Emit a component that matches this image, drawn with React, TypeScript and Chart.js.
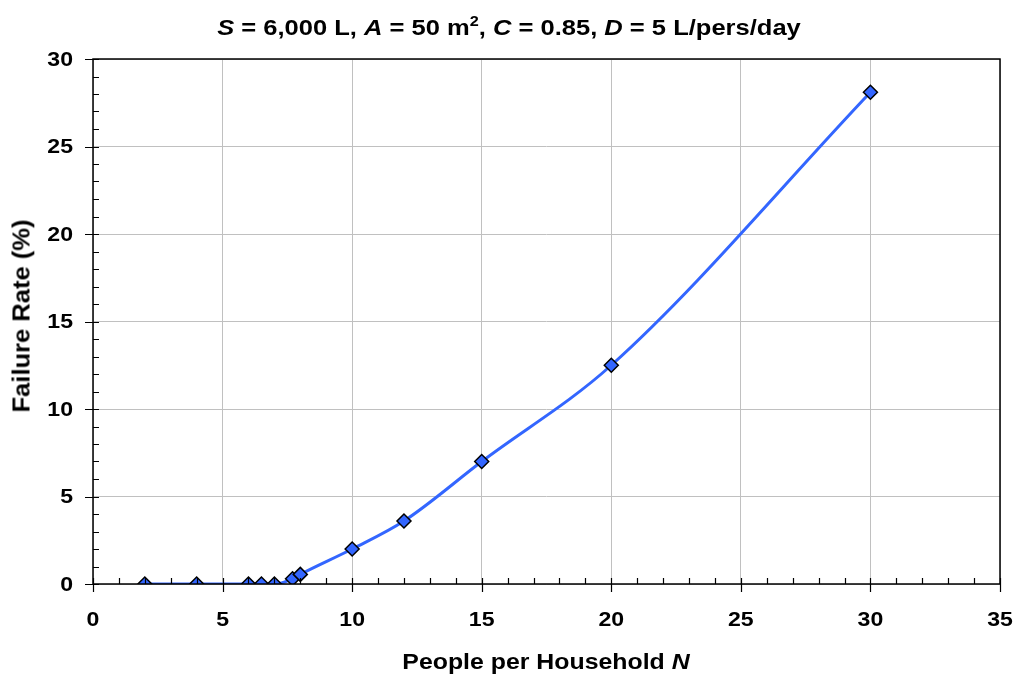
import React, { useEffect, useRef } from "react";
import { Chart, registerables } from "chart.js";

Chart.register(...registerables);

const peopleN = [2, 4, 6, 6.5, 7, 7.7, 8, 10, 12, 15, 20, 30];
const failureRate = [0, 0, 0, 0, 0, 0.3, 0.55, 2.0, 3.6, 7.0, 12.5, 28.1];
const xTickLabels = [0, 5, 10, 15, 20, 25, 30, 35];
const yTickLabels = [0, 5, 10, 15, 20, 25, 30];
const xMax = 35;
const yMax = 30;

const FONT = "'Liberation Sans', Arial, sans-serif";

const tickPlugin = {
  id: "customTicks",
  afterDraw(chart: any) {
    const ctx = chart.ctx;
    const { left, right, top, bottom } = chart.chartArea;
    const xs = chart.scales.x;
    const ys = chart.scales.y;
    ctx.save();
    ctx.strokeStyle = "#000";
    ctx.lineWidth = 1.5;
    ctx.strokeRect(left, top, right - left, bottom - top);
    ctx.lineWidth = 1.2;
    ctx.beginPath();
    for (let v = 0; v <= xMax; v++) {
      const px = Math.round(xs.getPixelForValue(v)) + 0.5;
      const major = v % 5 === 0;
      ctx.moveTo(px, bottom - 6);
      ctx.lineTo(px, bottom + (major ? 8 : 0));
    }
    for (let v = 0; v <= yMax; v++) {
      const py = Math.round(ys.getPixelForValue(v)) + 0.5;
      const major = v % 5 === 0;
      ctx.moveTo(left + 6, py);
      ctx.lineTo(left - (major ? 8 : 0), py);
    }
    ctx.stroke();

    // tick labels (slightly wide glyphs, as in the reference)
    ctx.fillStyle = "#000";
    ctx.font = `bold 21px ${FONT}`;
    ctx.textBaseline = "middle";
    const sx = 1.1;
    for (const v of yTickLabels) {
      const py = ys.getPixelForValue(v);
      ctx.save();
      ctx.translate(73, py + 1);
      ctx.scale(sx, 1);
      ctx.textAlign = "right";
      ctx.fillText(String(v), 0, 0);
      ctx.restore();
    }
    for (const v of xTickLabels) {
      const px = xs.getPixelForValue(v);
      ctx.save();
      ctx.translate(px, bottom + 36);
      ctx.scale(sx, 1);
      ctx.textAlign = "center";
      ctx.fillText(String(v), 0, 0);
      ctx.restore();
    }
    ctx.restore();
  },
};

export default function App() {
  const ref = useRef<HTMLCanvasElement>(null);
  useEffect(() => {
    document.body.style.margin = "0";
    const data = peopleN.map((x, i) => ({ x, y: failureRate[i] }));
    const gridColor = (c: any) =>
      c.tick && c.tick.value % 5 === 0 ? "#c0c0c0" : "rgba(0,0,0,0)";
    const chart = new Chart(ref.current!, {
      type: "scatter",
      data: {
        datasets: [
          {
            data,
            showLine: true,
            borderColor: "#3366FF",
            borderWidth: 3,
            cubicInterpolationMode: "monotone",
            pointStyle: "rectRot",
            pointRadius: 7,
            pointBackgroundColor: "#3366FF",
            pointBorderColor: "#000",
            pointBorderWidth: 1.5,
          } as any,
        ],
      },
      options: {
        responsive: false,
        animation: false,
        layout: { padding: { left: 0, top: 59, right: 16, bottom: 0 } },
        plugins: { legend: { display: false }, tooltip: { enabled: false }, title: { display: false } },
        scales: {
          x: {
            type: "linear",
            min: 0,
            max: xMax,
            afterFit: (s: any) => { s.height = 91; },
            afterBuildTicks: (s: any) => {
              const t = [];
              for (let v = 0; v <= xMax; v++) t.push({ value: v });
              s.ticks = t;
            },
            ticks: { display: false, autoSkip: false },
            grid: { drawTicks: false, color: gridColor, lineWidth: 1 },
            border: { display: false },
          },
          y: {
            type: "linear",
            min: 0,
            max: yMax,
            afterFit: (s: any) => { s.width = 93; },
            afterBuildTicks: (s: any) => {
              const t = [];
              for (let v = 0; v <= yMax; v++) t.push({ value: v });
              s.ticks = t;
            },
            ticks: { display: false, autoSkip: false },
            grid: { drawTicks: false, color: gridColor, lineWidth: 1 },
            border: { display: false },
          },
        },
      },
      plugins: [tickPlugin],
    });
    return () => chart.destroy();
  }, []);

  const textStyle: React.CSSProperties = {
    position: "absolute",
    fontFamily: FONT,
    fontWeight: "bold",
    color: "#000",
    whiteSpace: "nowrap",
    lineHeight: 1,
  };

  return (
    <div style={{ position: "relative", width: 1016, height: 675 }}>
      <canvas ref={ref} width={1016} height={675} style={{ display: "block" }} />
      <div
        style={{
          ...textStyle,
          left: 509,
          top: 28,
          fontSize: 22,
          transform: "translate(-50%, -50%) scaleX(1.16)",
        }}
      >
        <i>S</i> = 6,000 L, <i>A</i> = 50 m<sup style={{ fontSize: 14, verticalAlign: 9, lineHeight: 0 }}>2</sup>, <i>C</i> = 0.85, <i>D</i> = 5 L/pers/day
      </div>
      <div
        style={{
          ...textStyle,
          left: 546,
          top: 662,
          fontSize: 22,
          transform: "translate(-50%, -50%) scaleX(1.13)",
        }}
      >
        People per Household <i>N</i>
      </div>
      <div
        style={{
          ...textStyle,
          left: 22,
          top: 316,
          fontSize: 23,
          transform: "translate(-50%, -50%) rotate(-90deg) scaleX(1.11)",
        }}
      >
        Failure Rate (%)
      </div>
    </div>
  );
}
